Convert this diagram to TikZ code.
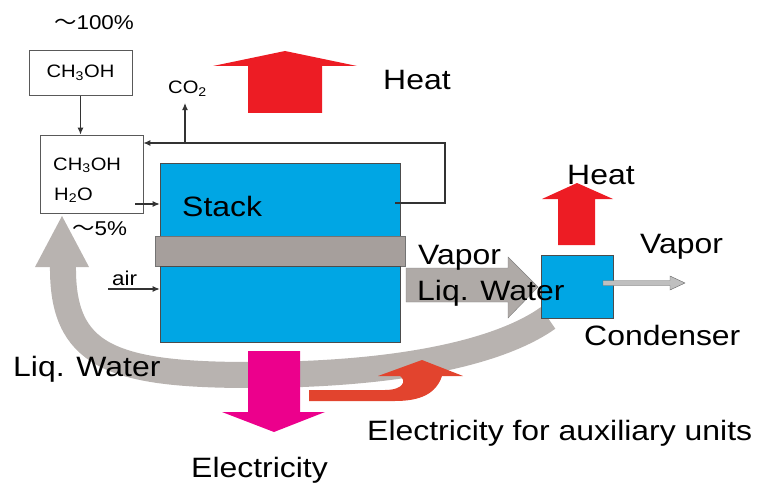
\documentclass[tikz,border=0pt]{standalone}
\usepackage{fontspec}
\setmainfont{Liberation Sans}
\newfontfamily\cjkfont{Noto Sans CJK JP}
\usetikzlibrary{positioning}
\usetikzlibrary{arrows.meta}

\definecolor{stackblue}{RGB}{0,166,228}
\definecolor{membgray}{RGB}{166,159,156}
\definecolor{bandgray}{RGB}{184,179,176}
\definecolor{heatred}{RGB}{237,28,36}
\definecolor{elecpink}{RGB}{236,0,140}
\definecolor{auxred}{RGB}{226,68,46}

\begin{document}
\begin{tikzpicture}[x=1pt, y=-1pt,
    big/.style={font=\fontsize{28}{30}\selectfont, xscale=1.14, inner sep=0pt},
    mid/.style={font=\fontsize{20}{22}\selectfont, xscale=1.12, inner sep=0pt},
    small/.style={font=\fontsize{18}{20}\selectfont, xscale=1.12, inner sep=0pt},
    tank/.style={draw=black!70, fill=stackblue, line width=0.6pt, inner sep=0pt},
    feed/.style={draw=black!65, fill=white, line width=0.8pt, inner sep=0pt},
    pipe/.style={draw=black!80, line width=1.1pt, -{Latex[length=7pt,width=6pt]}}]
    \useasboundingbox (0,0) rectangle (764,487);

    % water recycled from condenser
    \draw[bandgray, line width=26pt] (548,318) .. controls (500,352) and (400,375) .. (250,375)
        .. controls (110,375) and (62,355) .. (63,266);
    \fill[bandgray] (35,267) -- (62,216) -- (89,267) -- cycle;

    % stack
    \node[tank, minimum width=240, minimum height=73] (stacktop) at (280,199.5) {};
    \node[draw=black!55, fill=membgray, minimum width=250, minimum height=30, inner sep=0pt] (memb) at (280,251) {};
    \node[tank, minimum width=240, minimum height=76] (stackbot) at (280,304) {};
    \node[big, anchor=base west] (stacklbl) at (182,216) {Stack};

    % fuel tanks
    \node[feed, minimum width=103, minimum height=78] (mix) at (91.5,174) {};
    \node[feed, minimum width=103, minimum height=45, above=39pt of mix, xshift=-11pt] (meoh) {};
    \node[small] (meohlbl) at (meoh) {CH\textsubscript{3}OH};
    \node[small, anchor=base west] (mixa) at (53,170) {CH\textsubscript{3}OH};
    \node[small, anchor=base west] (mixb) at (54,200) {H\textsubscript{2}O};
    \node[mid, anchor=base] (pct100) at (94,30) {{\cjkfont ～}100\%};
    \node[mid, anchor=base west] (pct5) at (72,235) {{\cjkfont ～}5\%};

    % pipes
    \coordinate (mixout) at (135,204);
    \coordinate (stackout) at (395,203);
    \coordinate (loopcorner) at (445,143);
    \coordinate (co2tee) at (185,143);
    \coordinate (airin) at (108,289);
    \node[small, anchor=base west] (co2) at (168,94) {CO\textsubscript{2}};
    \node[mid, anchor=base west] (air) at (112,285) {air};
    \draw[pipe] (meoh) -- (meoh |- mix.north);
    \draw[pipe] (mixout) -- (mixout -| stacktop.west);
    \draw[pipe] (stackout) -| (loopcorner) -- (loopcorner -| mix.east);
    \draw[pipe, shorten >=6pt] (co2tee) -- (co2tee |- co2.south);
    \draw[pipe] (airin) -- (airin -| stackbot.west);

    % heat from the stack
    \fill[heatred] (248,113) -- (248,66) -- (213,66) -- (285,51) -- (357,66) -- (322,66) -- (322,113) -- cycle;
    \node[big, anchor=base west] (heatbig) at (383,89) {Heat};

    % vapor and water to condenser
    \draw[black!50, fill=bandgray!95!black] (406,268) -- (508,268) -- (508,257) -- (538,287)
        -- (508,318) -- (508,302) -- (406,302) -- cycle;
    \node[tank, minimum width=72, minimum height=63] (cond) at (577,286.5) {};
    \fill[heatred] (558,245) -- (558,199) -- (542,199) -- (577,183) -- (613,199) -- (595,199) -- (595,245) -- cycle;
    \draw[black!60, fill=black!25] (603,280.5) -- (670,280.5) -- (670,276) -- (685,283)
        -- (670,290) -- (670,285.5) -- (603,285.5) -- cycle;
    \node[big, anchor=base west] (vapin) at (418,264) {Vapor};
    \node[big, anchor=base west] (liqin) at (417,300) {Liq. Water};
    \node[big, anchor=base west] (heatcond) at (567,184) {Heat};
    \node[big, anchor=base west] (vapout) at (640,253) {Vapor};
    \node[big, anchor=base west] (condlbl) at (584,345) {Condenser};
    \node[big, anchor=base west] (liqback) at (13,376) {Liq. Water};

    % electricity
    \fill[elecpink] (248,351) -- (300,351) -- (300,412) -- (325,412) -- (274,432) -- (222,412) -- (248,412) -- cycle;
    \fill[auxred] (309,390) -- (385,390) .. controls (403,390) and (407,381) .. (400,376) -- (378,376)
        -- (422,360) -- (463,376) -- (442,376) .. controls (436,394) and (420,401) .. (395,401) -- (309,401) -- cycle;
    \node[big, anchor=base west] (elec) at (191,477) {Electricity};
    \node[big, anchor=base west] (elecaux) at (367,440) {Electricity for auxiliary units};
\end{tikzpicture}
\end{document}
